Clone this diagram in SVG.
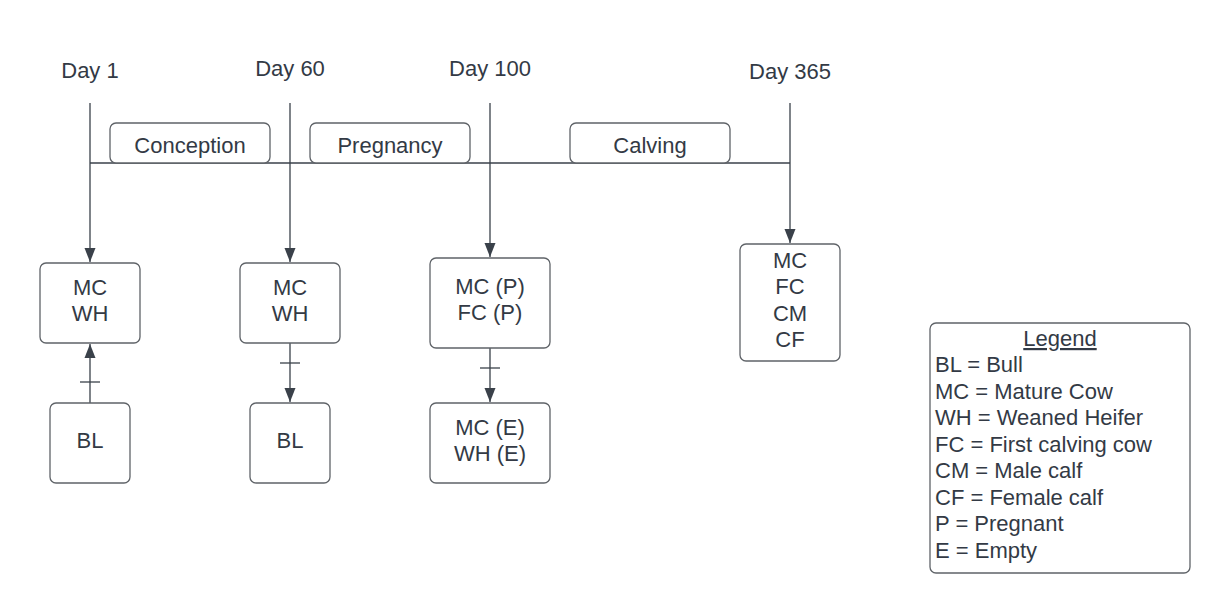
<svg xmlns="http://www.w3.org/2000/svg" width="1230" height="613" viewBox="0 0 1230 613">
<style>
text{font-family:"Liberation Sans",Arial,sans-serif;font-size:22px;fill:#333a45}
.c{text-anchor:middle}
.box{fill:#fff;stroke:#5f6368;stroke-width:1.3}
.ln{stroke:#3a414a;stroke-width:1.3;fill:none}
</style>
<defs>
<marker id="ah" markerUnits="userSpaceOnUse" markerWidth="16" markerHeight="14" refX="14" refY="7" orient="auto">
<path d="M0,1.5 L14,7 L0,12.5 Z" fill="#3a414a"/>
</marker>
</defs>
<rect width="1230" height="613" fill="#fff"/>
<g id="labels">
<text class="c" x="90" y="78">Day 1</text>
<text class="c" x="290" y="76">Day 60</text>
<text class="c" x="490" y="76">Day 100</text>
<text class="c" x="790" y="79">Day 365</text>
</g>
<g id="connectors">
<line class="ln" x1="90" y1="163" x2="790" y2="163"/>
<line class="ln" x1="90" y1="103" x2="90" y2="262" marker-end="url(#ah)"/>
<line class="ln" x1="290" y1="103" x2="290" y2="262" marker-end="url(#ah)"/>
<line class="ln" x1="490" y1="103" x2="490" y2="257" marker-end="url(#ah)"/>
<line class="ln" x1="790" y1="103" x2="790" y2="243" marker-end="url(#ah)"/>
<line class="ln" x1="90" y1="403" x2="90" y2="344" marker-end="url(#ah)"/>
<line class="ln" x1="80" y1="382" x2="100" y2="382"/>
<line class="ln" x1="290" y1="343" x2="290" y2="402" marker-end="url(#ah)"/>
<line class="ln" x1="280" y1="363" x2="300" y2="363"/>
<line class="ln" x1="490" y1="348" x2="490" y2="402" marker-end="url(#ah)"/>
<line class="ln" x1="480" y1="368" x2="500" y2="368"/>
</g>
<g id="phase-conception">
<rect class="box" x="110" y="123" width="160" height="40" rx="6"/>
<text class="c" x="190" y="153">Conception</text>
</g>
<g id="phase-pregnancy">
<rect class="box" x="310" y="123" width="160" height="40" rx="6"/>
<text class="c" x="390" y="153">Pregnancy</text>
</g>
<g id="phase-calving">
<rect class="box" x="570" y="123" width="160" height="40" rx="6"/>
<text class="c" x="650" y="153">Calving</text>
</g>
<g id="node-day1">
<rect class="box" x="40" y="263" width="100" height="80" rx="6"/>
<text class="c" x="90" y="295">MC</text>
<text class="c" x="90" y="321">WH</text>
</g>
<g id="node-bl1">
<rect class="box" x="50" y="403" width="80" height="80" rx="6"/>
<text class="c" x="90" y="448">BL</text>
</g>
<g id="node-day60">
<rect class="box" x="240" y="263" width="100" height="80" rx="6"/>
<text class="c" x="290" y="295">MC</text>
<text class="c" x="290" y="321">WH</text>
</g>
<g id="node-bl2">
<rect class="box" x="250" y="403" width="80" height="80" rx="6"/>
<text class="c" x="290" y="448">BL</text>
</g>
<g id="node-day100">
<rect class="box" x="430" y="258" width="120" height="90" rx="6"/>
<text class="c" x="490" y="294">MC (P)</text>
<text class="c" x="490" y="320">FC (P)</text>
</g>
<g id="node-empty">
<rect class="box" x="430" y="403" width="120" height="80" rx="6"/>
<text class="c" x="490" y="435">MC (E)</text>
<text class="c" x="490" y="461">WH (E)</text>
</g>
<g id="node-day365">
<rect class="box" x="740" y="244" width="100" height="117" rx="6"/>
<text class="c" x="790" y="268">MC</text>
<text class="c" x="790" y="294">FC</text>
<text class="c" x="790" y="321">CM</text>
<text class="c" x="790" y="347">CF</text>
</g>
<g id="legend">
<rect class="box" x="930" y="323" width="260" height="250" rx="6"/>
<text class="c" x="1060" y="346" text-decoration="underline">Legend</text>
<text x="935" y="372">BL = Bull</text>
<text x="935" y="399">MC = Mature Cow</text>
<text x="935" y="425">WH = Weaned Heifer</text>
<text x="935" y="452">FC = First calving cow</text>
<text x="935" y="478">CM = Male calf</text>
<text x="935" y="505">CF = Female calf</text>
<text x="935" y="531">P = Pregnant</text>
<text x="935" y="558">E = Empty</text>
</g>
</svg>
